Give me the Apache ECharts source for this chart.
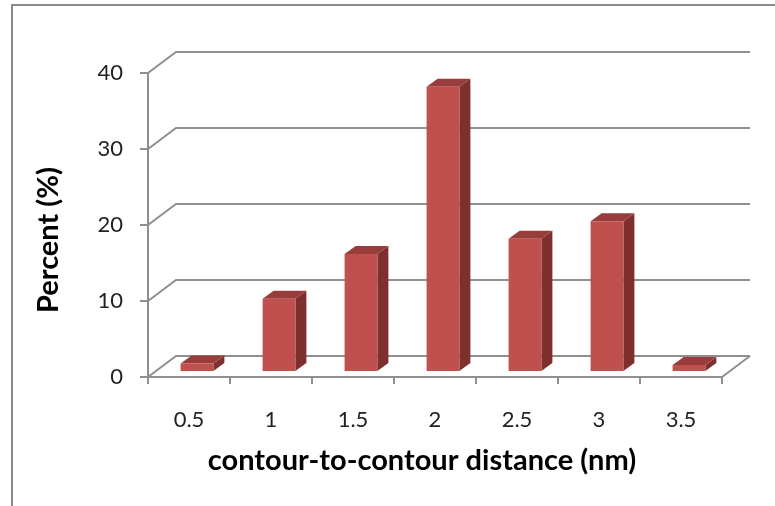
<!DOCTYPE html>
<html>
<head>
<meta charset="utf-8">
<script src="https://cdn.jsdelivr.net/npm/echarts@6/dist/echarts.min.js"></script>
<style>
html,body{margin:0;padding:0;background:#fff;}
#chart{width:775px;height:506px;}
</style>
</head>
<body>
<div id="chart"></div>
<script>
// ---- data ----
const categories = ['0.5', '1', '1.5', '2', '2.5', '3', '3.5'];
const percentValues = [1.0, 9.5, 15.4, 37.4, 17.4, 19.7, 0.8];
const yTicks = [0, 10, 20, 30, 40];
const xTitle = 'contour-to-contour distance (nm)';
const yTitle = 'Percent (%)';

// ---- 3D look (styling only) ----
const DEPTH_X = 28, DEPTH_Y = 21;      // back wall offset
const BAR_OFF_X = 8, BAR_OFF_Y = 6;    // bar front face offset
const SIDE_X = 11, SIDE_Y = 8;         // bar depth
const GRID_COLOR = '#8f8f8f';
const FONT = 'Lato, "Open Sans", sans-serif';

const chart = echarts.init(document.getElementById('chart'));

function gridItem(params, api) {
  const v = api.value(1);
  const band = api.size([1, 0])[0];
  const c0 = api.coord([0, v]);
  const cN = api.coord([categories.length - 1, v]);
  const left = c0[0] - band / 2;
  const right = cN[0] + band / 2;
  const y = c0[1];
  const style = {stroke: GRID_COLOR, lineWidth: 2, fill: null};
  const children = [
    {type: 'polyline', shape: {points: [[left, y], [left + DEPTH_X, y - DEPTH_Y], [right + DEPTH_X, y - DEPTH_Y]]}, style: style}
  ];
  if (v === 0) {
    children.push({type: 'line', shape: {x1: right, y1: y, x2: right + DEPTH_X, y2: y - DEPTH_Y}, style: style});
  }
  return {type: 'group', children: children};
}

function barItem(params, api) {
  const base = api.coord([api.value(0), 0]);
  const top = api.coord([api.value(0), api.value(1)]);
  const w = api.size([1, 0])[0] * 0.4;
  const x0 = base[0] + BAR_OFF_X - w / 2;
  const x1 = x0 + w;
  const yb = base[1] - BAR_OFF_Y;
  const yt = top[1] - BAR_OFF_Y;
  return {
    type: 'group',
    children: [
      {type: 'polygon', shape: {points: [[x1, yt], [x1 + SIDE_X, yt - SIDE_Y], [x1 + SIDE_X, yb - SIDE_Y], [x1, yb]]}, style: {fill: '#7d302e'}},
      {type: 'polygon', shape: {points: [[x0, yt], [x0 + SIDE_X, yt - SIDE_Y], [x1 + SIDE_X, yt - SIDE_Y], [x1, yt]]}, style: {fill: '#983d3b'}},
      {type: 'rect', shape: {x: x0, y: yt, width: w, height: yb - yt}, style: {fill: '#c0504d'}}
    ]
  };
}

chart.setOption({
  animation: false,
  grid: {left: 148, right: 53, top: 73, bottom: 129},
  xAxis: {
    type: 'category',
    data: categories,
    axisLine: {show: true, lineStyle: {color: GRID_COLOR, width: 2}},
    axisTick: {show: true, interval: 0, length: 7, lineStyle: {color: GRID_COLOR, width: 2}},
    axisLabel: {margin: 32, fontSize: 22, color: '#222', fontFamily: FONT}
  },
  yAxis: {
    type: 'value',
    min: 0, max: 40, interval: 10,
    axisLine: {show: true, lineStyle: {color: GRID_COLOR, width: 2}},
    axisTick: {show: true, length: 8, lineStyle: {color: GRID_COLOR, width: 2}},
    axisLabel: {margin: 25, fontSize: 22, color: '#222', fontFamily: FONT},
    splitLine: {show: false}
  },
  graphic: [
    {type: 'rect', shape: {x: 12, y: 5, width: 800, height: 600}, style: {fill: null, stroke: '#8a8a8a', lineWidth: 2}, silent: true, z: -10},
    {type: 'text', x: 422, y: 461, style: {text: xTitle, font: 'bold 29px ' + FONT, fill: '#000', textAlign: 'center', textVerticalAlign: 'middle'}},
    {type: 'text', x: 49, y: 240, rotation: Math.PI / 2, style: {text: yTitle, font: 'bold 29px ' + FONT, fill: '#000', textAlign: 'center', textVerticalAlign: 'middle'}}
  ],
  series: [
    {type: 'custom', renderItem: gridItem, data: yTicks.map(v => [0, v]), clip: false, z: 1, silent: true},
    {type: 'custom', renderItem: barItem, data: percentValues.map((v, i) => [i, v]), clip: false, z: 5}
  ]
});
</script>
</body>
</html>
